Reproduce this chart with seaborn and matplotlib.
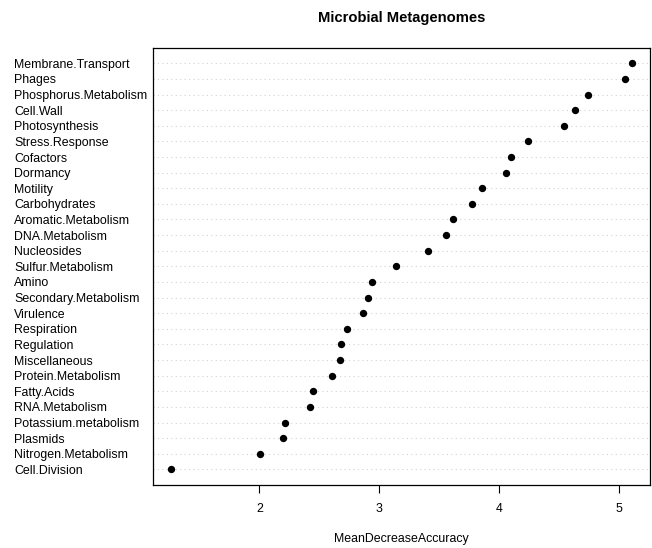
import matplotlib
matplotlib.use("Agg")
import matplotlib.pyplot as plt
import seaborn as sns
import pandas as pd
import numpy as np

categories = [
    "Membrane.Transport", "Phages", "Phosphorus.Metabolism", "Cell.Wall",
    "Photosynthesis", "Stress.Response", "Cofactors", "Dormancy", "Motility",
    "Carbohydrates", "Aromatic.Metabolism", "DNA.Metabolism", "Nucleosides",
    "Sulfur.Metabolism", "Amino", "Secondary.Metabolism", "Virulence",
    "Respiration", "Regulation", "Miscellaneous", "Protein.Metabolism",
    "Fatty.Acids", "RNA.Metabolism", "Potassium.metabolism", "Plasmids",
    "Nitrogen.Metabolism", "Cell.Division",
]
values = [
    5.103, 5.045, 4.737, 4.631, 4.542, 4.236, 4.098, 4.059, 3.858,
    3.770, 3.614, 3.553, 3.406, 3.139, 2.936, 2.908, 2.861, 2.731,
    2.681, 2.675, 2.603, 2.448, 2.423, 2.217, 2.195, 2.003, 1.264,
]
xticks = [2, 3, 4, 5]

sns.set_style("white")
plt.rcParams["font.family"] = ["Liberation Sans", "DejaVu Sans"]
plt.rcParams["text.color"] = "black"
plt.rcParams["axes.labelcolor"] = "black"
plt.rcParams["xtick.color"] = "black"
plt.rcParams["ytick.color"] = "black"

n = len(categories)
df = pd.DataFrame({
    "category": categories,
    "value": values,
    "pos": np.arange(n, 0, -1),
})

fig = plt.figure(figsize=(6.52, 5.48), dpi=100)
ax = fig.add_axes([152.7 / 652, 1 - 485 / 548, (650 - 152.7) / 652, (485 - 47.7) / 548])

for p in df["pos"]:
    ax.axhline(p, color="#d3d3d3", linestyle=(0, (1, 3)), linewidth=0.8, zorder=1)

sns.scatterplot(data=df, x="value", y="pos", ax=ax, color="black",
                s=28, edgecolor="black", linewidth=0, zorder=3, legend=False)

vmin, vmax = min(values), max(values)
ext = 0.04 * (vmax - vmin)
ax.set_xlim(vmin - ext, vmax + ext)
ax.set_ylim(0, n + 1)

ax.set_xticks(xticks)
ax.set_xticklabels([str(t) for t in xticks], fontsize=8.9)
ax.tick_params(axis="x", direction="out", length=6, width=0.8, pad=7, color="black", bottom=True)

ax.set_yticks(df["pos"])
ax.set_yticklabels(df["category"], fontsize=8.9, ha="left")
ax.tick_params(axis="y", length=0, pad=(152.7 - 14) * 72 / 100)

for s in ax.spines.values():
    s.set_visible(True)
    s.set_color("black")
    s.set_linewidth(0.9)

ax.set_xlabel("MeanDecreaseAccuracy", fontsize=8.9, labelpad=13)
ax.set_ylabel("")
fig.text((152.7 + 650) / 2 / 652, 1 - 18 / 548, "Microbial Metagenomes",
         ha="center", va="center", fontsize=10.6, fontweight="bold")

fig.savefig("out.png", dpi=100)
